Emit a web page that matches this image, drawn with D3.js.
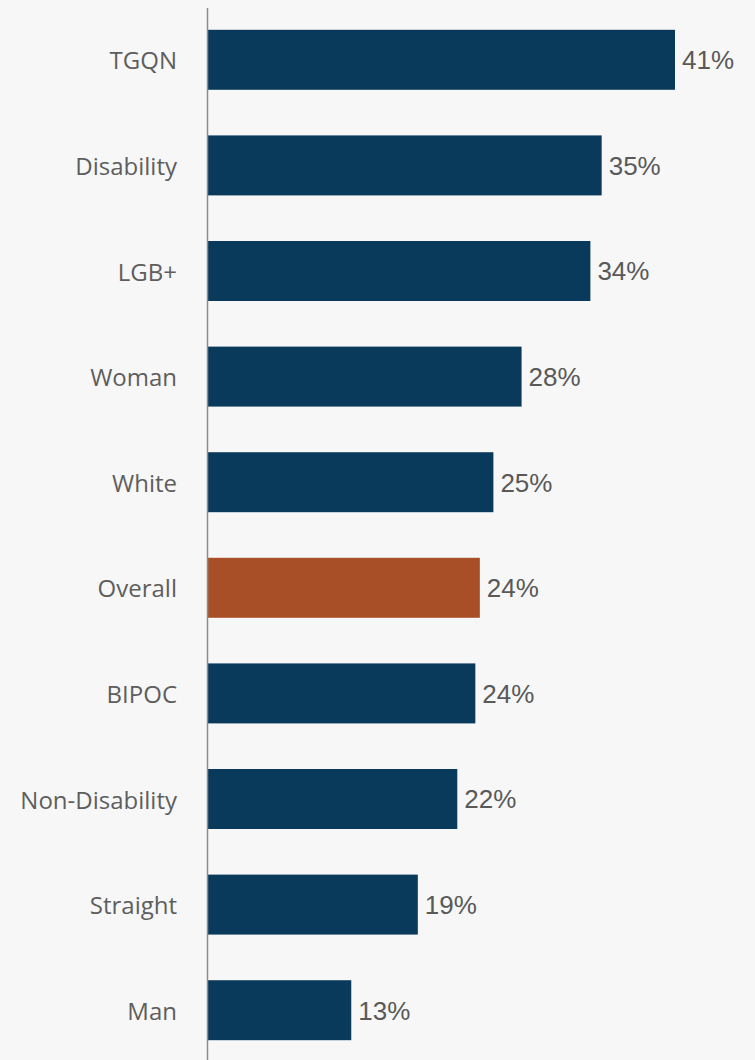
<!DOCTYPE html>
<html>
<head>
<meta charset="utf-8">
<script src="https://cdn.jsdelivr.net/npm/d3@7"></script>
<style>
  body { margin: 0; background: #f7f7f7; }
  svg { display: block; }
</style>
</head>
<body>
<svg id="chart"></svg>
<script>
// data
const groups = ['TGQN', 'Disability', 'LGB+', 'Woman', 'White', 'Overall', 'BIPOC', 'Non-Disability', 'Straight', 'Man'];
const shares = [41.4, 34.9, 33.9, 27.8, 25.3, 24.1, 23.7, 22.1, 18.6, 12.7];
const labels = ['41%', '35%', '34%', '28%', '25%', '24%', '24%', '22%', '19%', '13%'];
const highlight = 'Overall';

const w = 755;
const h = 1060;
const axisX = 208;

const svg = d3.select('#chart')
    .attr('width', w)
    .attr('height', h);

const data = groups.map((g, i) => ({ group: g, value: shares[i], label: labels[i] }));

// scales
const yScale = d3.scaleBand()
    .domain(groups)
    .range([7, 1063])
    .paddingInner(0.432)
    .paddingOuter(0.216);

const xScale = d3.scaleLinear()
    .domain([0, 45])
    .range([axisX, axisX + 45 * 11.28]);

// bars
svg.selectAll('.bar')
    .data(data)
    .enter()
    .append('rect')
    .attr('class', 'bar')
    .attr('x', xScale(0))
    .attr('y', d => yScale(d.group))
    .attr('width', d => xScale(d.value) - xScale(0))
    .attr('height', yScale.bandwidth())
    .attr('fill', d => d.group === highlight ? '#a94f27' : '#093a5b');

// value labels
svg.selectAll('.val')
    .data(data)
    .enter()
    .append('text')
    .attr('class', 'val')
    .attr('x', d => xScale(d.value) + 7)
    .attr('y', d => yScale(d.group) + yScale.bandwidth() / 2)
    .attr('dy', '0.36em')
    .attr('font-family', 'Liberation Sans, Arial, sans-serif')
    .attr('font-size', 26)
    .attr('fill', '#595959')
    .text(d => d.label);

// category axis on the left
const yAxis = d3.axisLeft(yScale).tickSize(0).tickPadding(31);
const ax = svg.append('g')
    .attr('transform', `translate(${axisX}, 0)`)
    .call(yAxis);
ax.select('.domain').remove();
ax.selectAll('text')
    .attr('dy', '0.4em')
    .attr('font-family', 'Open Sans, sans-serif')
    .attr('font-size', 24)
    .attr('fill', '#5e5e5e');

// axis line
svg.append('line')
    .attr('x1', axisX - 0.5)
    .attr('x2', axisX - 0.5)
    .attr('y1', 8)
    .attr('y2', h)
    .attr('stroke', '#8c8c8c')
    .attr('stroke-width', 1.5);
</script>
</body>
</html>
